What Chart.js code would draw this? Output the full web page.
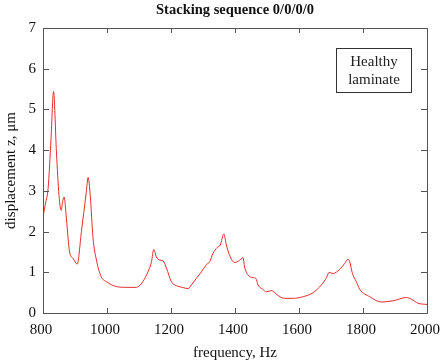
<!DOCTYPE html>
<html>
<head>
<meta charset="utf-8">
<script src="https://cdn.jsdelivr.net/npm/chart.js@4.4.1/dist/chart.umd.min.js"></script>
<style>
  html, body { margin: 0; padding: 0; background: #fff; }
  #wrap { width: 440px; height: 364px; }
</style>
</head>
<body>
<div id="wrap"><canvas id="chart" width="440" height="364"></canvas></div>
<script>
// frequency (Hz) and displacement (um)
var freq = [800, 808, 816, 825, 833, 842, 850, 857, 861, 866, 873, 883, 894, 907, 920, 935, 941, 948, 956, 967,
  982, 998, 1029, 1060, 1092, 1100, 1112, 1128, 1139, 1146, 1154, 1165, 1175, 1186, 1201, 1217, 1235, 1253, 1264,
  1279, 1295, 1311, 1321, 1331, 1344, 1354, 1365, 1373, 1383, 1399, 1415, 1425, 1430, 1441, 1456, 1465, 1472, 1487,
  1498, 1514, 1529, 1555, 1581, 1613, 1644, 1670, 1686, 1694, 1706, 1727, 1743, 1753, 1758, 1767, 1779, 1790, 1821,
  1857, 1894, 1936, 1951, 1972, 2000];
var dispZ = [2.36, 2.7, 3.06, 4.27, 5.44, 3.95, 2.89, 2.52, 2.72, 2.85, 2.33, 1.5, 1.34, 1.2, 2.0, 2.95, 3.33, 2.85, 1.87, 1.3,
  0.89, 0.77, 0.65, 0.63, 0.63, 0.66, 0.77, 1.01, 1.26, 1.56, 1.38, 1.3, 1.28, 1.1, 0.77, 0.67, 0.63, 0.6, 0.69,
  0.85, 1.01, 1.19, 1.26, 1.46, 1.61, 1.67, 1.94, 1.67, 1.42, 1.24, 1.3, 1.36, 1.13, 0.93, 0.87, 0.85, 0.69, 0.58,
  0.52, 0.55, 0.46, 0.36, 0.36, 0.4, 0.5, 0.69, 0.87, 1.0, 0.97, 1.07, 1.22, 1.32, 1.27, 0.97, 0.77, 0.58, 0.4,
  0.27, 0.3, 0.38, 0.34, 0.24, 0.21];
var xTicks = [800, 1000, 1200, 1400, 1600, 1800, 2000];
var yTicks = [0, 1, 2, 3, 4, 5, 6, 7];
var chartTitle = 'Stacking sequence 0/0/0/0';
var noteLines = ['Healthy', 'laminate'];

var points = freq.map(function (f, i) { return { x: f, y: dispZ[i] }; });
var serif = '"Liberation Serif", "Times New Roman", serif';
var axisColor = '#555';

// title over the plot, box frame + inward ticks on all four sides, and the note box
var framePlugin = {
  id: 'frame',
  afterDraw: function (chart) {
    var ctx = chart.ctx, a = chart.chartArea;
    var xs = chart.scales.x, ys = chart.scales.y;
    ctx.save();
    ctx.fillStyle = '#111';
    ctx.font = 'bold 14.5px ' + serif;
    ctx.textAlign = 'center';
    ctx.textBaseline = 'alphabetic';
    ctx.fillText(chartTitle, (a.left + a.right) / 2, 14);

    ctx.strokeStyle = axisColor;
    ctx.lineWidth = 1;
    ctx.strokeRect(a.left + 0.5, a.top + 0.5, a.right - a.left, a.bottom - a.top);
    ctx.beginPath();
    xTicks.forEach(function (v) {
      var px = Math.round(xs.getPixelForValue(v)) + 0.5;
      ctx.moveTo(px, a.bottom); ctx.lineTo(px, a.bottom - 5);
      ctx.moveTo(px, a.top); ctx.lineTo(px, a.top + 5);
    });
    yTicks.forEach(function (v) {
      var py = Math.round(ys.getPixelForValue(v)) + 0.5;
      ctx.moveTo(a.left, py); ctx.lineTo(a.left + 6, py);
      ctx.moveTo(a.right, py); ctx.lineTo(a.right - 6, py);
    });
    ctx.stroke();

    // note box
    var bx0 = Math.round(xs.getPixelForValue(1715)) + 0.5;
    var bx1 = Math.round(xs.getPixelForValue(1949)) + 0.5;
    var by0 = Math.round(ys.getPixelForValue(6.52)) + 0.5;
    var by1 = Math.round(ys.getPixelForValue(5.44)) + 0.5;
    ctx.strokeStyle = '#333';
    ctx.strokeRect(bx0, by0, bx1 - bx0, by1 - by0);
    ctx.fillStyle = '#222';
    ctx.font = '15px ' + serif;
    ctx.textBaseline = 'middle';
    var cx = (bx0 + bx1) / 2;
    ctx.fillText(noteLines[0], cx, by0 + 14);
    ctx.fillText(noteLines[1], cx, by0 + 32);
    ctx.restore();
  }
};

var ctx = document.getElementById('chart');
var myChart = new Chart(ctx, {
  type: 'line',
  data: {
    datasets: [{
      label: 'displacement',
      data: points,
      borderColor: 'rgb(228,45,45)',
      borderWidth: 1,
      pointRadius: 0,
      fill: false,
      cubicInterpolationMode: 'monotone'
    }]
  },
  options: {
    responsive: false,
    animation: false,
    layout: { padding: { left: 0, right: 13, top: 28, bottom: 0 } },
    plugins: {
      legend: { display: false },
      tooltip: { enabled: false },
      title: { display: false }
    },
    scales: {
      x: {
        type: 'linear',
        min: 800,
        max: 2000,
        afterBuildTicks: function (s) { s.ticks = xTicks.map(function (v) { return { value: v }; }); },
        afterFit: function (s) { s.height = 51; s.paddingLeft = 0; s.paddingRight = 0; },
        grid: { display: false, drawTicks: false },
        border: { display: false },
        ticks: {
          color: '#111',
          padding: 8,
          labelOffset: -2,
          maxRotation: 0,
          font: { family: serif, size: 15 },
          callback: function (v) { return String(v); }
        },
        title: {
          display: true,
          text: 'frequency, Hz',
          color: '#111',
          font: { family: serif, size: 15 },
          padding: { top: 0, bottom: 2 }
        }
      },
      y: {
        min: 0,
        max: 7,
        afterBuildTicks: function (s) { s.ticks = yTicks.map(function (v) { return { value: v }; }); },
        afterFit: function (s) { s.width = 43; s.paddingTop = 0; s.paddingBottom = 0; },
        grid: { display: false, drawTicks: false },
        border: { display: false },
        ticks: { color: '#111', padding: 7, font: { family: serif, size: 15 } },
        title: {
          display: true,
          text: 'displacement z, μm',
          color: '#111',
          font: { family: serif, size: 15 },
          padding: { top: 2, bottom: 0 }
        }
      }
    }
  },
  plugins: [framePlugin]
});
</script>
</body>
</html>
